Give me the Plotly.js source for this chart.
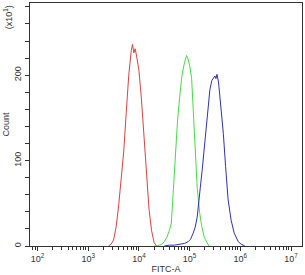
<!DOCTYPE html>
<html>
<head>
<meta charset="utf-8">
<script src="https://cdn.plot.ly/plotly-3.0.1.min.js"></script>
<style>html,body{margin:0;padding:0;background:#fff;}#chart{width:305px;height:275px;}</style>
</head>
<body>
<div id="chart"></div>
<script>
// Log10 of FITC-A intensity and histogram counts for each sample
const redLog   = [3.40,3.45,3.50,3.55,3.60,3.65,3.70,3.75,3.80,3.85,3.875,3.90,3.925,3.95,4.00,4.05,4.10,4.15,4.20,4.25,4.30,4.35];
const redCount = [0,2,7,22,47,76,110,156,200,229,236,226,231,224,206,172,131,83,43,18,4,0];

const greenLog   = [4.30,4.35,4.40,4.45,4.50,4.55,4.60,4.64,4.68,4.72,4.76,4.80,4.85,4.90,4.94,4.97,5.00,5.04,5.07,5.10,5.15,5.20,5.24,5.29,5.34,5.38];
const greenCount = [0,0,1,2,5,10,18,27,66,110,145,172,200,215,223,219,212,196,165,130,68,38,23,10,4,0];

const blueLog   = [4.50,4.60,4.70,4.80,4.90,4.97,5.02,5.07,5.11,5.15,5.18,5.21,5.25,5.28,5.31,5.34,5.37,5.40,5.44,5.47,5.50,5.52,5.54,5.57,5.60,5.63,5.665,5.71,5.76,5.82,5.88,5.96,6.02,6.09];
const blueCount = [0,1,1,2,3,5,8,15,22,34,48,68,90,110,130,150,167,183,194,196,199,196,201,192,175,155,132,93,54,30,15,5,2,0];

const xTickVals = [1e2,1e3,1e4,1e5,1e6,1e7];
const xTickText = ['10<sup>2</sup>','10<sup>3</sup>','10<sup>4</sup>','10<sup>5</sup>','10<sup>6</sup>','10<sup>7</sup>'];
const yTickVals = [0,100,200];
const yTickText = ['0','100','200'];
const yMinorVals = [20,40,60,80,120,140,160,180,220,240,260,280];

const minorX = [];
for (let d = 1; d <= 7; d++) for (let m = 2; m <= 9; m++) minorX.push(m * Math.pow(10, d));

const toVal = a => a.map(v => Math.pow(10, v));
const mk = (lx, c, col) => ({x: toVal(lx), y: c, type: 'scatter', mode: 'lines',
  line: {color: col, width: 1}, hoverinfo: 'skip', showlegend: false});

const data = [
  mk(redLog, redCount, '#e2403f'),
  mk(greenLog, greenCount, '#3fe03f'),
  mk(blueLog, blueCount, '#3030bf')
];

const font = {family: 'Liberation Sans, Arial, sans-serif', size: 9, color: '#333'};
const layout = {
  width: 305, height: 275,
  margin: {l: 30, r: 3, t: 3, b: 29},
  paper_bgcolor: '#fff', plot_bgcolor: '#fff',
  font: font,
  xaxis: {
    type: 'log', range: [1.852, 7.217],
    tickmode: 'array', tickvals: xTickVals, ticktext: xTickText,
    ticks: 'outside', ticklen: 4, tickwidth: 1, tickcolor: '#333',
    minor: {tickmode: 'array', tickvals: minorX, ticks: 'outside', ticklen: 3, tickwidth: 1, tickcolor: '#333', showgrid: false},
    showline: true, linecolor: '#333', linewidth: 1, mirror: true,
    showgrid: false, zeroline: false,
    tickfont: {family: font.family, size: 9, color: '#333'},
    title: {text: 'FITC-A', font: {family: font.family, size: 9, color: '#333'}, standoff: 2}
  },
  yaxis: {
    range: [0, 284.5],
    tickmode: 'array', tickvals: yTickVals, ticktext: yTickText, tickangle: -90,
    ticks: 'outside', ticklen: 4, tickwidth: 1, tickcolor: '#333',
    minor: {tickmode: 'array', tickvals: yMinorVals, ticks: 'outside', ticklen: 4, tickwidth: 1, tickcolor: '#333', showgrid: false},
    showline: true, linecolor: '#333', linewidth: 1, mirror: true,
    showgrid: false, zeroline: false,
    tickfont: {family: font.family, size: 9, color: '#333'},
    title: {text: 'Count', font: {family: font.family, size: 9, color: '#333'}, standoff: 2}
  },
  annotations: [{
    text: '(x10<sup>1</sup>)', textangle: -90, showarrow: false,
    xref: 'paper', yref: 'paper', x: -0.08, y: 1.0, xanchor: 'center', yanchor: 'top',
    font: {family: font.family, size: 9, color: '#333'}
  }]
};

Plotly.newPlot('chart', data, layout, {displayModeBar: false, staticPlot: true});
</script>
</body>
</html>
